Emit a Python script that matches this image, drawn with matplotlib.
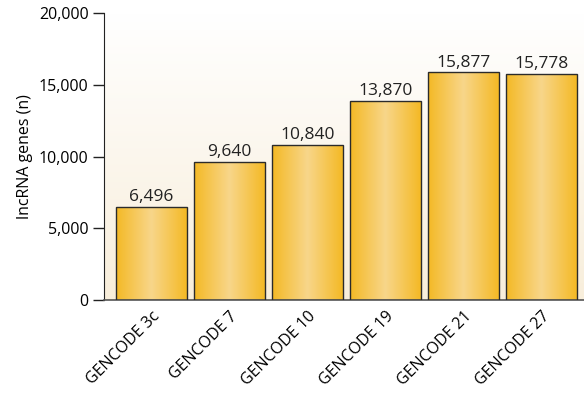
import matplotlib
matplotlib.use("Agg")
import matplotlib.pyplot as plt
import numpy as np
from matplotlib.colors import LinearSegmentedColormap

releases = ["GENCODE 3c", "GENCODE 7", "GENCODE 10", "GENCODE 19", "GENCODE 21", "GENCODE 27"]
lncrna_genes = [6496, 9640, 10840, 13870, 15877, 15778]

plt.rcParams['font.family'] = ['Open Sans', 'DejaVu Sans']

fig = plt.figure(figsize=(5.84, 3.98), dpi=100)
ax = fig.add_axes([0.178, 0.246, 0.822, 0.721])

x = np.arange(len(releases))
bars = ax.bar(x, lncrna_genes, width=0.91, facecolor='none', edgecolor='#2b2b2b',
              linewidth=1.0, zorder=3)

# background: white at top fading to cream at the bottom
bg_cmap = LinearSegmentedColormap.from_list('bg', ['#f8eedb', '#ffffff'])
ax.imshow(np.linspace(0, 1, 256).reshape(-1, 1), cmap=bg_cmap, aspect='auto',
          extent=[0, 1, 0, 1], transform=ax.transAxes, origin='lower', zorder=0)

# golden bars, lighter in the middle
bar_cmap = LinearSegmentedColormap.from_list('bar', ['#f4b925', '#f8d68a', '#f4b925'])
grad = np.linspace(0, 1, 256).reshape(1, -1)
for b in bars:
    im = ax.imshow(grad, cmap=bar_cmap, aspect='auto', zorder=2,
                   extent=[b.get_x(), b.get_x() + b.get_width(), 0, b.get_height()])
    im.set_clip_path(b)

for xi, v in zip(x, lncrna_genes):
    ax.text(xi, v + 120, f"{v:,}", ha='center', va='bottom', fontsize=12.5, color='#222222')

ax.set_xlim(-0.61, 5.545)
ax.set_ylim(0, 20000)
ax.set_yticks([0, 5000, 10000, 15000, 20000])
ax.set_yticklabels(["0", "5,000", "10,000", "15,000", "20,000"], fontsize=11.5)
ax.set_xticks(x)
ax.set_xticklabels(releases, rotation=45, ha='right', rotation_mode='anchor', fontsize=11.5)
ax.tick_params(axis='x', length=0, pad=6)
ax.tick_params(axis='y', length=8, width=1, color='#222222', pad=3)
ax.set_ylabel("lncRNA genes (n)", fontsize=11.5, labelpad=4)

for s in ['top', 'right']:
    ax.spines[s].set_visible(False)
ax.spines['left'].set_color('#222222')
ax.spines['bottom'].set_color('#555555')
ax.spines['bottom'].set_linewidth(1.2)

fig.savefig("out.png", dpi=100)
